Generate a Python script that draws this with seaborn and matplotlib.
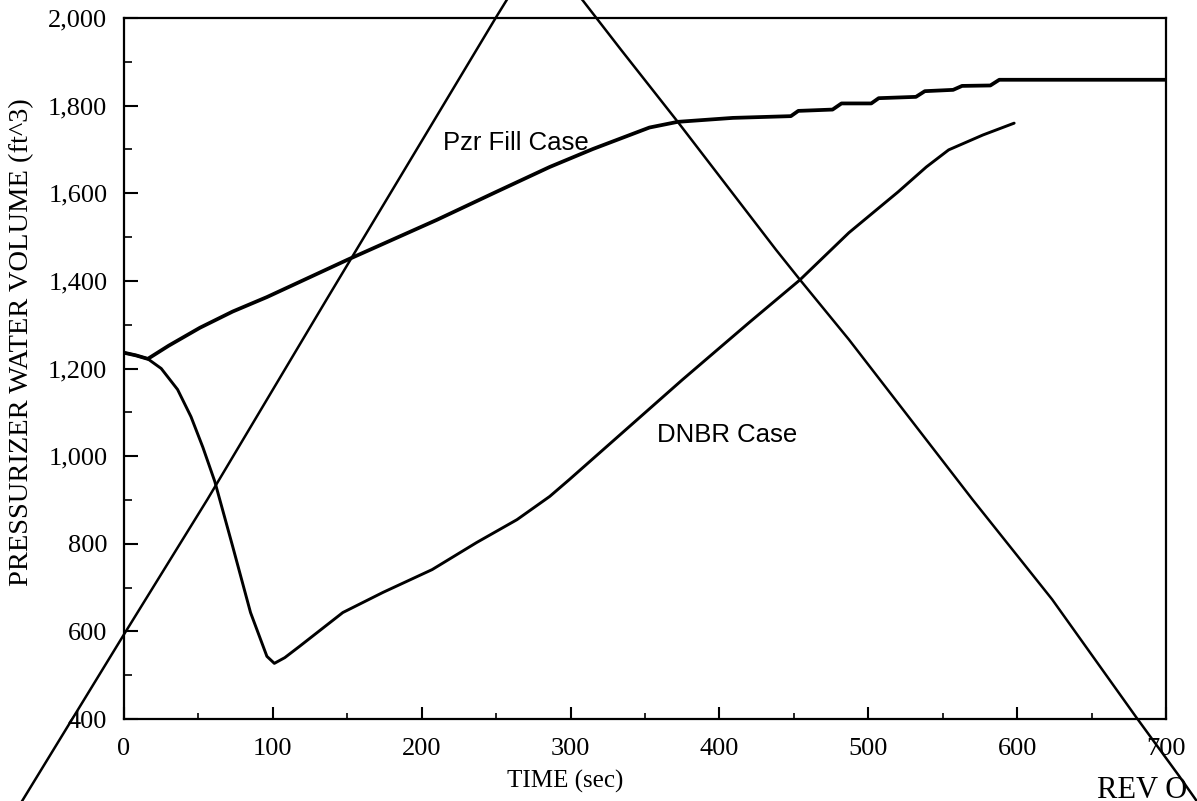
import matplotlib
matplotlib.use("Agg")
import matplotlib.pyplot as plt
from matplotlib.ticker import FuncFormatter, MultipleLocator
import seaborn as sns
import pandas as pd

# ---- data ----
time_pzr = [0, 8, 16, 30, 51, 73, 96, 150, 210, 250, 286, 315, 353, 372, 409, 448,
            453, 476, 482, 502, 507, 532, 538, 557, 563, 582, 588, 700]
vol_pzr = [1236, 1230, 1222, 1252, 1293, 1330, 1363, 1448, 1539, 1603, 1660, 1701, 1750, 1763, 1772, 1776,
           1788, 1791, 1805, 1805, 1817, 1820, 1833, 1836, 1845, 1846, 1859, 1859]

time_dnbr = [0, 8, 16, 25, 36, 45, 53, 61, 73, 85, 96, 101, 108, 118, 147, 174, 207, 237, 264, 286,
             299, 330, 375, 420, 454, 487, 520, 539, 554, 577, 598]
vol_dnbr = [1236, 1230, 1222, 1200, 1152, 1090, 1020, 942, 794, 643, 543, 527, 540, 566, 643, 689, 741, 803, 855, 908,
            946, 1039, 1174, 1305, 1402, 1510, 1603, 1660, 1699, 1733, 1760]

# hand-drawn cross-out strokes
strike1_x = [-74, 0.7, 56, 136, 250, 262]
strike1_y = [182, 597, 901, 1357, 2002, 2068]
strike2_x = [301, 308, 334, 372, 438, 454, 487, 570, 623.5, 680, 709, 727]
strike2_y = [2068, 2041, 1927, 1763, 1471, 1403, 1266, 901, 673, 404, 269, 182]

x_ticks = [0, 100, 200, 300, 400, 500, 600, 700]
y_ticks = [400, 600, 800, 1000, 1200, 1400, 1600, 1800, 2000]

label_pzr = "Pzr Fill Case"
label_dnbr = "DNBR Case"
x_label = "TIME (sec)"
y_label = "PRESSURIZER WATER VOLUME (ft^3)"
rev_text = "REV O"

# ---- figure ----
sns.set_theme(style="ticks")
plt.rcParams["font.family"] = ["Liberation Serif", "DejaVu Serif"]
plt.rcParams["text.color"] = "black"
plt.rcParams["axes.labelcolor"] = "black"
plt.rcParams["xtick.color"] = "black"
plt.rcParams["ytick.color"] = "black"

fig = plt.figure(figsize=(11.97, 8.01), dpi=100)
ax = fig.add_axes([124 / 1197, 1 - 719 / 801, (1166 - 124) / 1197, (719 - 18) / 801])

df_pzr = pd.DataFrame({"t": time_pzr, "v": vol_pzr})
df_dnbr = pd.DataFrame({"t": time_dnbr, "v": vol_dnbr})
df_s1 = pd.DataFrame({"t": strike1_x, "v": strike1_y})
df_s2 = pd.DataFrame({"t": strike2_x, "v": strike2_y})

sns.lineplot(data=df_pzr, x="t", y="v", ax=ax, color="black", lw=2.7, sort=False, estimator=None)
sns.lineplot(data=df_dnbr, x="t", y="v", ax=ax, color="black", lw=2.1, sort=False, estimator=None)
sns.lineplot(data=df_s1, x="t", y="v", ax=ax, color="black", lw=1.8, sort=False, estimator=None, clip_on=False)
sns.lineplot(data=df_s2, x="t", y="v", ax=ax, color="black", lw=1.8, sort=False, estimator=None, clip_on=False)

ax.set_xlim(0, 700)
ax.set_ylim(400, 2000)
ax.set_xticks(x_ticks)
ax.set_yticks(y_ticks)
ax.xaxis.set_minor_locator(MultipleLocator(50))
ax.yaxis.set_minor_locator(MultipleLocator(100))
ax.yaxis.set_major_formatter(FuncFormatter(lambda v, p: f"{int(v):,}"))
ax.xaxis.set_major_formatter(FuncFormatter(lambda v, p: f"{int(v)}"))

ax.tick_params(axis="both", which="major", direction="in", labelsize=19, color="black", width=1.5)
ax.tick_params(axis="y", which="major", length=10, pad=12)
ax.tick_params(axis="x", which="major", length=9, pad=14)
ax.tick_params(axis="y", which="minor", direction="in", length=5.5, width=1.2, left=True)
ax.tick_params(axis="x", which="minor", direction="in", length=4.5, width=1.2, bottom=True)

for s in ax.spines.values():
    s.set_linewidth(1.6)
    s.set_color("black")

ax.set_xlabel(x_label, fontsize=18)
ax.set_ylabel(y_label, fontsize=20.5)
ax.xaxis.set_label_coords(0.423, -0.073)
ax.yaxis.set_label_coords(-0.086, 0.538)

ax.text(214, 1715, label_pzr, fontsize=18.5, family=["Liberation Sans", "DejaVu Sans"], va="center", ha="left")
ax.text(358, 1049, label_dnbr, fontsize=18.5, family=["Liberation Sans", "DejaVu Sans"], va="center", ha="left")

fig.text(1097 / 1197, 1 - 798 / 801, rev_text, fontsize=22, ha="left", va="baseline")

fig.savefig("out.png", dpi=100, facecolor="white")
